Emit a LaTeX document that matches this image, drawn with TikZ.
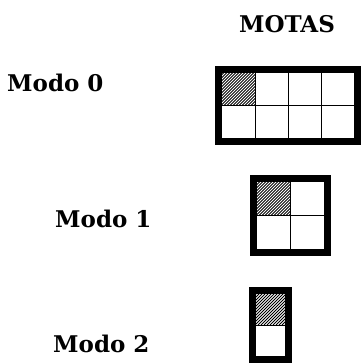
\documentclass[tikz,border=0pt]{standalone}
\usepackage{fontspec}
\setmainfont{DejaVu Serif}
\begin{document}
\begin{tikzpicture}[x=1pt,y=-1pt,
  label/.style={font=\bfseries\fontsize{23}{23}\selectfont, inner sep=0pt},
  frame/.style={line width=7pt, line join=miter},
  cellline/.style={line width=1pt},
  hatchline/.style={line width=0.8pt}]
\useasboundingbox (0,0) rectangle (360,363);

% grid of cells: #1,#2 = top-left of inner area, #3 cols, #4 rows, #5 cell width, #6 cell height
\newcommand{\motagrid}[6]{%
  \begin{scope}
    \clip (#1,#2) rectangle ++(#5,#6);
    \foreach \k in {-40,-37,...,40}
      {\draw[hatchline] (#1+\k,#2+#6) -- ++(#6,-#6);}
  \end{scope}
  \foreach \i in {1,...,#3}
    {\ifnum\i<#3 \draw[cellline] (#1+\i*#5,#2) -- ++(0,#4*#6);\fi}
  \foreach \j in {1,...,#4}
    {\ifnum\j<#4 \draw[cellline] (#1,#2+\j*#6) -- ++(#3*#5,0);\fi}
  \draw[frame] (#1-3.5,#2-3.5) rectangle ++(#3*#5+7,#4*#6+7);
}

\node[label, anchor=base] (title) at (287,33) {MOTAS};

\node[label, anchor=base west] (m0) at (7,92) {Modo 0};
\motagrid{222}{73}{4}{2}{33}{32.5}

\node[label, anchor=base west] (m1) at (55,227) {Modo 1};
\motagrid{257}{182}{2}{2}{33.5}{33.5}

\node[label, anchor=base west] (m2) at (53,352) {Modo 2};
\motagrid{256}{294}{1}{2}{29}{31}
\end{tikzpicture}
\end{document}
